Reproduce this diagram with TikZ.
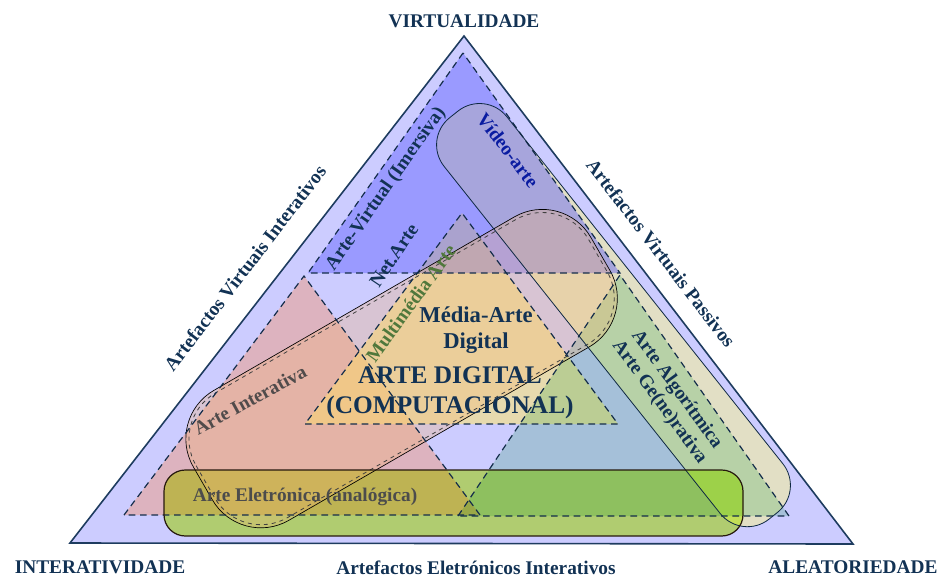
\documentclass[tikz,border=0pt]{standalone}
\usepackage{fontspec}
\setmainfont{Liberation Serif}
\definecolor{navytxt}{RGB}{18,50,84}
\definecolor{edgeline}{RGB}{30,60,95}
\definecolor{dashline}{RGB}{20,45,75}
\definecolor{lav}{RGB}{204,204,255}
\definecolor{topblue}{RGB}{80,80,255}
\definecolor{pinkish}{RGB}{235,160,140}
\definecolor{blueish}{RGB}{207,240,217}
\definecolor{yell}{RGB}{250,228,120}
\definecolor{grn}{RGB}{220,255,112}
\definecolor{paleyel}{RGB}{245,240,150}
\definecolor{peach}{RGB}{245,180,110}
\definecolor{mmgreen}{RGB}{80,120,60}
\definecolor{greytxt}{RGB}{80,75,75}
\begin{document}
\begin{tikzpicture}[x=0.75pt, y=-0.75pt,
  lbl/.style={font=\bfseries\fontsize{14.5}{17}\selectfont, text=navytxt, inner sep=0pt},
  biglbl/.style={lbl, align=center},
  subtri/.style={draw=dashline, line width=0.9pt, dash pattern=on 5pt off 3.5pt}]
\useasboundingbox (0,0) rectangle (949,579);
\coordinate (A) at (464,36);
\coordinate (L) at (70,543);
\coordinate (R) at (853,544);
\coordinate (d1) at (124,515);
\coordinate (d2) at (789,516);
\coordinate (d3) at (463,53);
\coordinate (t1) at (308,273);
\coordinate (t2) at (620,273);
\coordinate (l2) at (304,276);
\coordinate (l3) at (480,515);
\coordinate (r1) at (458,516);
\coordinate (r2) at (620,275);
\coordinate (m1) at (305,424);
\coordinate (m2) at (618,424);
\coordinate (m3) at (462,213);

\fill[lav] (L) -- (R) -- (A) -- cycle;
\begin{scope}[shift={(613.5,315.1)}, rotate=-51.5]
\fill[paleyel, fill opacity=0.55, rounded corners=26pt] (-256.5,-40) rectangle (256.5,40);
\end{scope}
\fill[pinkish, fill opacity=0.55] (d1) -- (l2) -- (l3) -- cycle;
\fill[yell, fill opacity=0.6] (m1) -- (m2) -- (m3) -- cycle;
\fill[topblue, fill opacity=0.4] (d3) -- (t1) -- (t2) -- cycle;
\begin{scope}[blend mode=multiply]
\fill[blueish] (r1) -- (r2) -- (d2) -- cycle;
\fill[grn, rounded corners=16pt] (164,470) rectangle (743,536);
\end{scope}
\begin{scope}[shift={(401.6,368.6)}, rotate=30]
\fill[peach, fill opacity=0.3, rounded corners=42pt] (-229.5,-75) rectangle (229.5,75);
\draw[line width=0.5pt, rounded corners=42pt] (-229.5,-75) rectangle (229.5,75);
\draw[line width=0.6pt, dashed, draw=black!75, rounded corners=40pt] (-226.5,-72) rectangle (226.5,72);
\end{scope}

\draw[subtri] (d3) -- (t1) -- (t2) -- cycle;
\draw[subtri] (d1) -- (l2) -- (l3) -- cycle;
\draw[subtri] (r1) -- (r2) -- (d2) -- cycle;
\draw[subtri] (m1) -- (m2) -- (m3) -- cycle;

\begin{scope}[shift={(613.5,315.1)}, rotate=-51.5]
\draw[navytxt!80!black, line width=0.6pt, rounded corners=26pt] (-256.5,-40) rectangle (256.5,40);
\end{scope}
\draw[black!80!brown, line width=0.9pt, rounded corners=16pt] (164,470) rectangle (743,536);
\draw[edgeline, line width=1.2pt] (L) -- (R) -- (A) -- cycle;

\node[lbl] (virt) at (464,21) {VIRTUALIDADE};
\node[lbl] (inter) at (100,567) {INTERATIVIDADE};
\node[lbl] (alea) at (853,567) {ALEATORIEDADE};
\node[lbl] (aei) at (476,568) {Artefactos Eletrónicos Interativos};
\node[lbl, rotate=52.5] (avi) at (245,268) {Artefactos Virtuais Interativos};
\node[lbl, rotate=-52.5] (avp) at (661,253) {Artefactos Virtuais Passivos};
\node[lbl, rotate=55] (virtual) at (386,189) {Arte-Virtual (Imersiva)};
\node[lbl, rotate=-52.5, text=blue!45!navytxt] (video) at (508,150) {Vídeo-arte};
\node[lbl, rotate=56] (net) at (394,255) {Net.Arte};
\node[lbl, rotate=54, text=mmgreen] (multi) at (411,303) {Multimédia Arte};
\node[biglbl, font=\bfseries\fontsize{17}{19}\selectfont] (media) at (476,330) {Média-Arte\\Digital};
\node[biglbl, font=\bfseries\fontsize{19}{22.5}\selectfont] (digital) at (450,393) {ARTE DIGITAL\\(COMPUTACIONAL)};
\node[lbl, rotate=28.6, text=greytxt] (interativa) at (250,400) {Arte Interativa};
\node[lbl, text=black!70] (eletronica) at (305,497) {Arte Eletrónica (analógica)};
\node[biglbl, rotate=-54, font=\bfseries\fontsize{14.5}{16}\selectfont] (algo) at (668,396) {Arte Algorítmica\\Arte Ge(ne)rativa};
\end{tikzpicture}
\end{document}
